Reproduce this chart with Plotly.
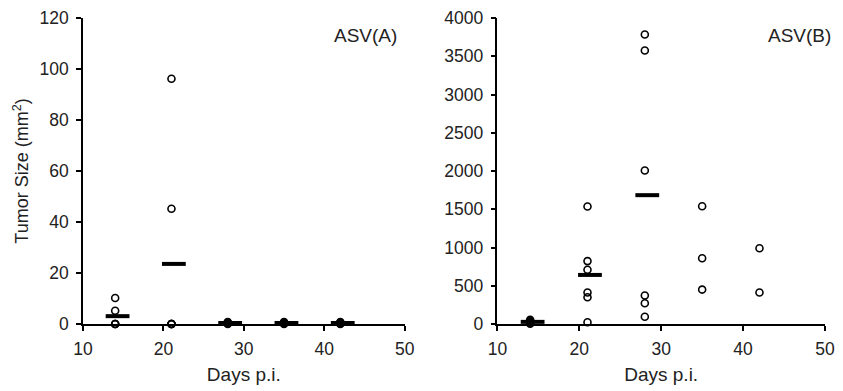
import plotly.graph_objects as go
import numpy as np

# ---- data ----
days_a = [14, 21, 28, 35, 42]
values_a = [
    [0, 0, 0, 5.2, 10.2],
    [96.2, 45.2, 0, 0, 0, 0],
    [0, 0.2, 0.4, 0.6, 0.8],
    [0, 0.2, 0.4, 0.6, 0.8],
    [0, 0.2, 0.4, 0.6, 0.8],
]
mean_days_a = [14, 21, 28, 35, 42]

days_b = [14, 21, 28, 35, 42]
values_b = [
    [5, 15, 25, 40, 55],
    [1535, 822, 709, 411, 350, 22],
    [3784, 3576, 2006, 372, 272, 95],
    [1540, 860, 450],
    [990, 411],
]
mean_days_b = [14, 21, 28]

x_ticks = [10, 20, 30, 40, 50]
y_ticks_a = [0, 20, 40, 60, 80, 100, 120]
y_ticks_b = [0, 500, 1000, 1500, 2000, 2500, 3000, 3500, 4000]

FONT = "Liberation Sans, Arial, sans-serif"
TXT = "#222222"

fig = go.Figure()

def add_panel(days, values, mean_days, xa, ya):
    xs, ys = [], []
    for d, vals in zip(days, values):
        xs += [d] * len(vals)
        ys += vals
    fig.add_trace(go.Scatter(
        x=xs, y=ys, mode="markers", xaxis=xa, yaxis=ya, showlegend=False,
        marker=dict(symbol="circle-open", size=7, color="black", line=dict(width=1.6)),
        cliponaxis=False,
    ))
    mx, my = [], []
    for d, vals in zip(days, values):
        if d in mean_days:
            mx.append(d + 0.3)
            my.append(float(np.mean(vals)))
    fig.add_trace(go.Scatter(
        x=mx, y=my, mode="markers", xaxis=xa, yaxis=ya, showlegend=False,
        marker=dict(symbol="line-ew-open", size=17, color="black", line=dict(width=4, color="black")),
        cliponaxis=False,
    ))

add_panel(days_a, values_a, mean_days_a, "x", "y")
add_panel(days_b, values_b, mean_days_b, "x2", "y2")

axis_common = dict(
    showgrid=False, zeroline=False, showline=True, linecolor="black", linewidth=1.5,
    ticks="outside", ticklen=5, tickwidth=1.5, tickcolor="black",
    tickfont=dict(family=FONT, size=17.5, color=TXT),
)
XTITLE_FONT = dict(family=FONT, size=19, color=TXT)
YTITLE_FONT = dict(family=FONT, size=18, color=TXT)

fig.update_layout(
    width=843, height=391,
    margin=dict(l=83, r=8, t=16, b=67),
    plot_bgcolor="white", paper_bgcolor="white",
    font=dict(family=FONT, color=TXT),
    xaxis=dict(domain=[0, 0.4335], range=[10, 50], tickvals=x_ticks, anchor="y",
               ticklabelstandoff=3,
               title=dict(text="Days p.i.", font=XTITLE_FONT, standoff=10),
               **axis_common),
    yaxis=dict(range=[0, 120], tickvals=y_ticks_a, anchor="x",
               ticklabelstandoff=4,
               title=dict(text="Tumor Size (mm<sup>2</sup>)", font=YTITLE_FONT, standoff=6),
               **axis_common),
    xaxis2=dict(domain=[0.5585, 1], range=[10, 50], tickvals=x_ticks, anchor="y2",
                ticklabelstandoff=3,
                title=dict(text="Days p.i.", font=XTITLE_FONT, standoff=10),
                **axis_common),
    yaxis2=dict(range=[0, 4000], tickvals=y_ticks_b, anchor="x2", ticklabelstandoff=4, **axis_common),
    annotations=[
        dict(text="ASV(A)", x=0.4335, y=1, xref="paper", yref="paper", xanchor="right", yanchor="top",
             xshift=-6, yshift=-5, showarrow=False, font=dict(family=FONT, size=19, color=TXT)),
        dict(text="ASV(B)", x=1, y=1, xref="paper", yref="paper", xanchor="right", yanchor="top",
             xshift=8, yshift=-5, showarrow=False, font=dict(family=FONT, size=19, color=TXT)),
    ],
)

fig.write_html("out.html")
